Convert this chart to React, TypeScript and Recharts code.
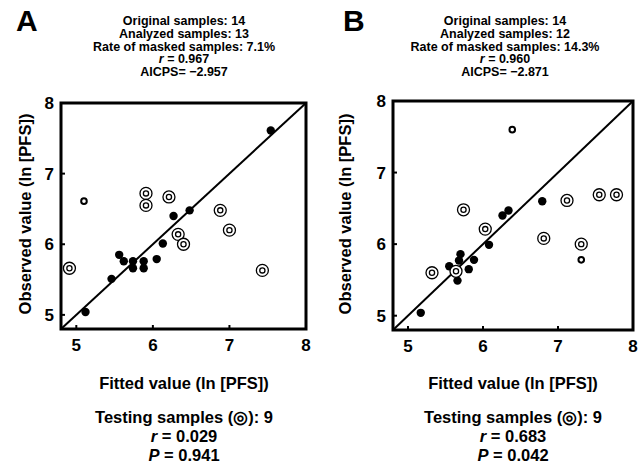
import React from "react";
import { ScatterChart, Scatter, XAxis, YAxis, ReferenceLine, ReferenceArea } from "recharts";

const axisTicks = [5, 6, 7, 8];

// panel A
const fittedA = [7.54, 6.48, 6.27, 6.13, 6.05, 5.56, 5.62, 5.74, 5.74, 5.88, 5.88, 5.46, 5.12];
const observedA = [7.61, 6.48, 6.4, 6.01, 5.79, 5.85, 5.76, 5.76, 5.66, 5.76, 5.66, 5.51, 5.04];
const maskedFittedA = [5.1];
const maskedObservedA = [6.61];
const testFittedA = [4.91, 5.91, 5.91, 6.21, 6.33, 6.4, 6.88, 7.0, 7.43];
const testObservedA = [5.66, 6.72, 6.55, 6.67, 6.14, 6.0, 6.48, 6.2, 5.63];

// panel B
const fittedB = [5.17, 5.55, 5.7, 5.68, 5.81, 5.66, 5.63, 5.88, 6.08, 6.26, 6.34, 6.79];
const observedB = [5.04, 5.69, 5.86, 5.77, 5.65, 5.49, 5.62, 5.78, 5.99, 6.4, 6.47, 6.6];
const maskedFittedB = [6.39, 7.31];
const maskedObservedB = [7.6, 5.78];
const testFittedB = [5.32, 5.64, 5.74, 6.03, 6.81, 7.12, 7.31, 7.55, 7.78];
const testObservedB = [5.6, 5.62, 6.48, 6.21, 6.08, 6.61, 6.0, 6.69, 6.69];

const headerA = ["Original samples: 14", "Analyzed samples: 13", "Rate of masked samples: 7.1%", "0.967", "\u22122.957"];
const headerB = ["Original samples: 14", "Analyzed samples: 12", "Rate of masked samples: 14.3%", "0.960", "\u22122.871"];
const testingA = ["9", "0.029", "0.941"];
const testingB = ["9", "0.683", "0.042"];

const font = "Arial, 'Liberation Sans', sans-serif";

const pairs = (xs: number[], ys: number[]) => xs.map((x, i) => ({ x, y: ys[i] }));

const Dot = (p: any) => <circle cx={p.cx} cy={p.cy} r={4.2} fill="#000" />;
const Masked = (p: any) => <circle cx={p.cx} cy={p.cy} r={2.8} fill="#fff" stroke="#000" strokeWidth={2} />;
const Testing = (p: any) => (
  <g>
    <circle cx={p.cx} cy={p.cy} r={6} fill="#fff" stroke="#000" strokeWidth={1.3} />
    <circle cx={p.cx} cy={p.cy} r={2.6} fill="#fff" stroke="#000" strokeWidth={1.3} />
  </g>
);

function Panel(props: any) {
  const { left, width, margin, yWidth, letter, letterX, header, headerX, plotCx, yLabelX, testing, fx, fy, mx, my, tx, ty } = props;
  const tickStyle = { fill: "#000", fontSize: 17, fontWeight: "bold", fontFamily: font };
  return (
    <>
      <div style={{ position: "absolute", left: left, top: 0 }}>
        <ScatterChart width={width} height={465} margin={margin}>
          <XAxis type="number" dataKey="x" domain={[4.8, 8]} ticks={axisTicks} allowDataOverflow height={40}
            axisLine={false} tickLine={{ stroke: "#000", strokeWidth: 2 }} tickSize={-4} tickMargin={14} tick={tickStyle} />
          <YAxis type="number" dataKey="y" domain={[4.8, 8]} ticks={axisTicks} allowDataOverflow width={yWidth}
            axisLine={false} tickLine={{ stroke: "#000", strokeWidth: 2 }} tickSize={-4} tickMargin={11} tick={tickStyle} />
          <ReferenceLine segment={[{ x: 4.8, y: 4.8 }, { x: 8, y: 8 }]} stroke="#000" strokeWidth={2} />
          <Scatter data={pairs(fx, fy)} shape={Dot} isAnimationActive={false} />
          <Scatter data={pairs(mx, my)} shape={Masked} isAnimationActive={false} />
          <Scatter data={pairs(tx, ty)} shape={Testing} isAnimationActive={false} />
          <ReferenceArea x1={4.8} x2={8} y1={4.8} y2={8} fill="none" stroke="#000" strokeWidth={3} />
        </ScatterChart>
      </div>
      <div style={{ position: "absolute", left: letterX, top: 4, fontSize: 30, fontWeight: "bold", fontFamily: font }}>{letter}</div>
      <div style={{ position: "absolute", left: headerX - 150, width: 300, top: 15, textAlign: "center", fontSize: 12.5, lineHeight: "12.8px", fontWeight: "bold", fontFamily: font }}>
        <div>{header[0]}</div>
        <div>{header[1]}</div>
        <div>{header[2]}</div>
        <div><i>r</i> = {header[3]}</div>
        <div>AICPS= {header[4]}</div>
      </div>
      <div style={{ position: "absolute", left: yLabelX - 130, top: 204, width: 260, height: 20, lineHeight: "20px", textAlign: "center", transform: "rotate(-90deg)", fontSize: 16.5, fontWeight: "bold", fontFamily: font }}>
        Observed value (ln [PFS])
      </div>
      <div style={{ position: "absolute", left: plotCx - 150, top: 373, width: 300, height: 20, lineHeight: "20px", textAlign: "center", fontSize: 16.5, fontWeight: "bold", fontFamily: font }}>
        Fitted value (ln [PFS])
      </div>
      <div style={{ position: "absolute", left: plotCx - 150, top: 408, width: 300, textAlign: "center", lineHeight: "19px", fontSize: 16.5, fontWeight: "bold", fontFamily: font }}>
        <div>Testing samples ({"\u25CE"}): {testing[0]}</div>
        <div><i>r</i> = {testing[1]}</div>
        <div><i>P</i> = {testing[2]}</div>
      </div>
    </>
  );
}

export default function App() {
  return (
    <div style={{ position: "absolute", left: 0, top: 0, width: 639, height: 465, background: "#fff", overflow: "hidden" }}>
      <Panel left={0} width={320} margin={{ top: 103, right: 14, bottom: 96, left: 0 }} yWidth={61}
        letter="A" letterX={16} header={headerA} headerX={184} plotCx={184} yLabelX={25} testing={testingA}
        fx={fittedA} fy={observedA} mx={maskedFittedA} my={maskedObservedA} tx={testFittedA} ty={testObservedA} />
      <Panel left={320} width={319} margin={{ top: 101, right: 6, bottom: 95, left: 0 }} yWidth={73}
        letter="B" letterX={343} header={headerB} headerX={505} plotCx={513} yLabelX={345} testing={testingB}
        fx={fittedB} fy={observedB} mx={maskedFittedB} my={maskedObservedB} tx={testFittedB} ty={testObservedB} />
    </div>
  );
}
